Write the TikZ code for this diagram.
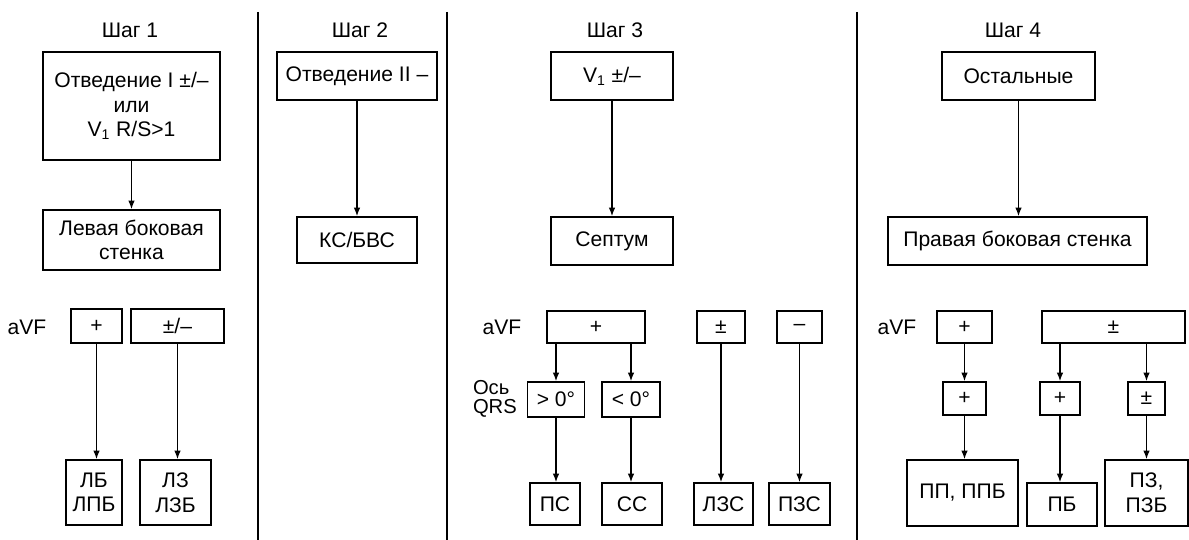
\documentclass[tikz,border=0pt]{standalone}
\usepackage{fontspec}
\setmainfont{Liberation Sans}
\usetikzlibrary{arrows.meta}

\begin{document}
\begin{tikzpicture}[
  bx/.style 2 args={draw, line width=0.8pt, inner sep=0pt, align=center,
    minimum width=#1cm, minimum height=#2cm},
  arr/.style={line width=0.8pt, -{Latex[length=5pt,width=3.8pt]}},
  font=\fontsize{12}{14}\selectfont]
\useasboundingbox (0,0) rectangle (23.78,-10.80);

% separators between the steps
\foreach \x in {5.16,8.94,17.14}
  \draw[line width=1.1pt] (\x,-0.24) -- (\x,-10.80);

\foreach \x/\n in {2.60/1,7.20/2,12.30/3,20.26/4}
  \node (h\n) at (\x,-0.60) {Шаг \n};
\foreach \x/\n in {0.54/1,10.04/3,17.94/4}
  \node (avf\n) at (\x,-6.54) {aVF};

% step 1
\node[bx={3.54}{2.16}] (s1a) at (2.63,-2.12) {Отведение I ±/–\\или\\V\textsubscript{1} R/S>1};
\node[bx={3.54}{1.20}] (s1b) at (2.63,-4.80) {Левая боковая\\стенка};
\node[bx={1.02}{0.68}] (s1p) at (1.93,-6.52) {+};
\node[bx={1.86}{0.68}] (s1m) at (3.55,-6.52) {±/–};
\node[bx={1.12}{1.30}] (s1r1) at (1.88,-9.85) {ЛБ\\ЛПБ};
\node[bx={1.42}{1.30}] (s1r2) at (3.51,-9.85) {ЛЗ\\ЛЗБ};
\draw[arr] (s1a) -- (s1b);
\draw[arr] (s1p.south) -- (s1p.south |- s1r1.north);
\draw[arr] (s1m.south) -- (s1m.south |- s1r2.north);

% step 2
\node[bx={3.20}{0.96}] (s2a) at (7.14,-1.52) {Отведение II –};
\node[bx={2.40}{0.92}] (s2b) at (7.14,-4.80) {КС/БВС};
\draw[arr] (s2a) -- (s2b);

% step 3
\node[bx={2.44}{0.96}] (s3a) at (12.24,-1.52) {V\textsubscript{1} ±/–};
\node[bx={2.44}{0.96}] (s3b) at (12.24,-4.82) {Септум};
\draw[arr] (s3a) -- (s3b);
\node[bx={1.96}{0.64}] (s3p) at (11.92,-6.54) {+};
\node[bx={0.96}{0.64}] (s3pm) at (14.42,-6.54) {±};
\node[bx={0.90}{0.64}] (s3mi) at (15.99,-6.54) {–};
\node[align=left, anchor=east, font=\fontsize{11.5}{11}\selectfont] (axis) at (10.46,-7.98) {Ось\\QRS};
\node[bx={1.14}{0.70}] (s3g) at (11.12,-7.99) {> 0°};
\node[bx={1.16}{0.70}] (s3l) at (12.62,-7.99) {< 0°};
\node[bx={1.00}{0.84}] (s3c1) at (11.10,-10.08) {ПС};
\node[bx={1.20}{0.84}] (s3c2) at (12.64,-10.08) {СС};
\node[bx={1.18}{0.84}] (s3c3) at (14.47,-10.08) {ЛЗС};
\node[bx={1.22}{0.84}] (s3c4) at (15.99,-10.08) {ПЗС};
\draw[arr] (s3g.north |- s3p.south) -- (s3g.north);
\draw[arr] (s3l.north |- s3p.south) -- (s3l.north);
\draw[arr] (s3g) -- (s3g |- s3c1.north);
\draw[arr] (s3l) -- (s3l |- s3c2.north);
\draw[arr] (s3pm) -- (s3pm |- s3c3.north);
\draw[arr] (s3mi) -- (s3c4);

% step 4
\node[bx={3.06}{0.96}] (s4a) at (20.37,-1.52) {Остальные};
\node[bx={5.18}{0.96}] (s4b) at (20.35,-4.82) {Правая боковая стенка};
\draw[arr] (s4a) -- (s4a |- s4b.north);
\node[bx={1.10}{0.64}] (s4p) at (19.29,-6.54) {+};
\node[bx={2.86}{0.64}] (s4pm) at (22.27,-6.54) {±};
\node[bx={0.86}{0.66}] (s4q) at (19.29,-7.97) {+};
\node[bx={0.80}{0.66}] (s4s) at (21.20,-7.97) {+};
\node[bx={0.74}{0.66}] (s4t) at (22.93,-7.97) {±};
\node[bx={2.22}{1.32}] (s4r1) at (19.25,-9.86) {ПП, ППБ};
\node[bx={1.40}{0.86}] (s4r2) at (21.24,-10.09) {ПБ};
\node[bx={1.66}{1.32}] (s4r3) at (22.93,-9.86) {ПЗ,\\ПЗБ};
\draw[arr] (s4p) -- (s4q);
\draw[arr] (s4q) -- (s4q |- s4r1.north);
\draw[arr] (s4s.north |- s4pm.south) -- (s4s.north);
\draw[arr] (s4t.north |- s4pm.south) -- (s4t.north);
\draw[arr] (s4s) -- (s4s |- s4r2.north);
\draw[arr] (s4t) -- (s4r3);
\end{tikzpicture}
\end{document}
